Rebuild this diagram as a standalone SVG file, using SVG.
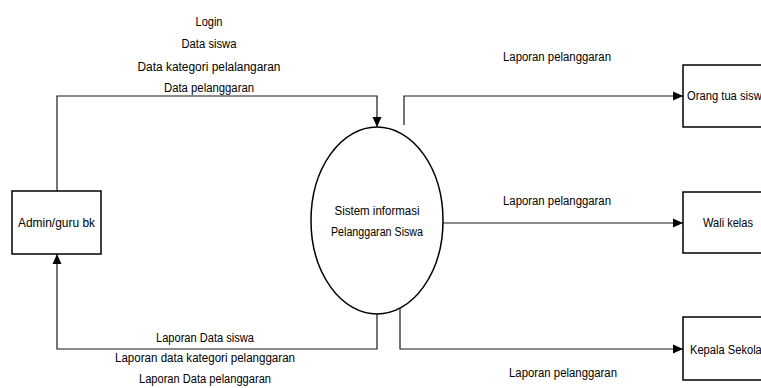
<svg xmlns="http://www.w3.org/2000/svg" width="761" height="388" viewBox="0 0 761 388">
<style>
.box{fill:#fff;stroke:#000;stroke-width:1.5}
.conn{fill:none;stroke:#1a1a1a;stroke-width:1.2}
text{font-family:"Liberation Sans",Arial,sans-serif;font-size:12.5px;fill:#000;text-anchor:middle}
</style>
<defs>
<marker id="arr" markerUnits="userSpaceOnUse" markerWidth="10" markerHeight="10" viewBox="0 0 10 10" refX="10" refY="5" orient="auto">
<path d="M0,0.5 L10,5 L0,9.5 z" fill="#000"/>
</marker>
</defs>
<rect width="761" height="388" fill="#fff"/>
<g id="connectors">
<path class="conn" d="M57,191 V96 H377 V127" marker-end="url(#arr)"/>
<path class="conn" d="M404,125 V96 H683" marker-end="url(#arr)"/>
<path class="conn" d="M443,223 H683" marker-end="url(#arr)"/>
<path class="conn" d="M400,308 V349 H683" marker-end="url(#arr)"/>
<path class="conn" d="M377,314 V349 H57 V254" marker-end="url(#arr)"/>
</g>
<g id="labels">
<text x="209" y="26" textLength="27" lengthAdjust="spacingAndGlyphs">Login</text>
<text x="209" y="48" textLength="55" lengthAdjust="spacingAndGlyphs">Data siswa</text>
<text x="209" y="71" textLength="143" lengthAdjust="spacingAndGlyphs">Data kategori pelalangaran</text>
<text x="209" y="92" textLength="90" lengthAdjust="spacingAndGlyphs">Data pelanggaran</text>
<text x="557" y="61" textLength="108" lengthAdjust="spacingAndGlyphs">Laporan pelanggaran</text>
<text x="557" y="205" textLength="108" lengthAdjust="spacingAndGlyphs">Laporan pelanggaran</text>
<text x="563" y="377" textLength="108" lengthAdjust="spacingAndGlyphs">Laporan pelanggaran</text>
<text x="205" y="342" textLength="98" lengthAdjust="spacingAndGlyphs">Laporan Data siswa</text>
<text x="205" y="362" textLength="180" lengthAdjust="spacingAndGlyphs">Laporan data kategori pelanggaran</text>
<text x="205" y="383" textLength="132" lengthAdjust="spacingAndGlyphs">Laporan Data pelanggaran</text>
</g>
<g id="admin">
<rect class="box" x="12" y="191" width="89" height="63"/>
<text x="56.5" y="227" textLength="77" lengthAdjust="spacingAndGlyphs">Admin/guru bk</text>
</g>
<g id="sistem">
<ellipse class="box" cx="377" cy="220.5" rx="66" ry="93.5"/>
<text x="377" y="215" textLength="85" lengthAdjust="spacingAndGlyphs">Sistem informasi</text>
<text x="377" y="236" textLength="92" lengthAdjust="spacingAndGlyphs">Pelanggaran Siswa</text>
</g>
<g id="orangtua">
<rect class="box" x="683" y="65" width="89" height="62"/>
<text x="727.5" y="100" textLength="81" lengthAdjust="spacingAndGlyphs">Orang tua siswa</text>
</g>
<g id="walikelas">
<rect class="box" x="683" y="192" width="89" height="61"/>
<text x="728" y="227" textLength="50" lengthAdjust="spacingAndGlyphs">Wali kelas</text>
</g>
<g id="kepalasekolah">
<rect class="box" x="683" y="317" width="89" height="63"/>
<text x="729" y="354" textLength="78" lengthAdjust="spacingAndGlyphs">Kepala Sekolah</text>
</g>
</svg>
